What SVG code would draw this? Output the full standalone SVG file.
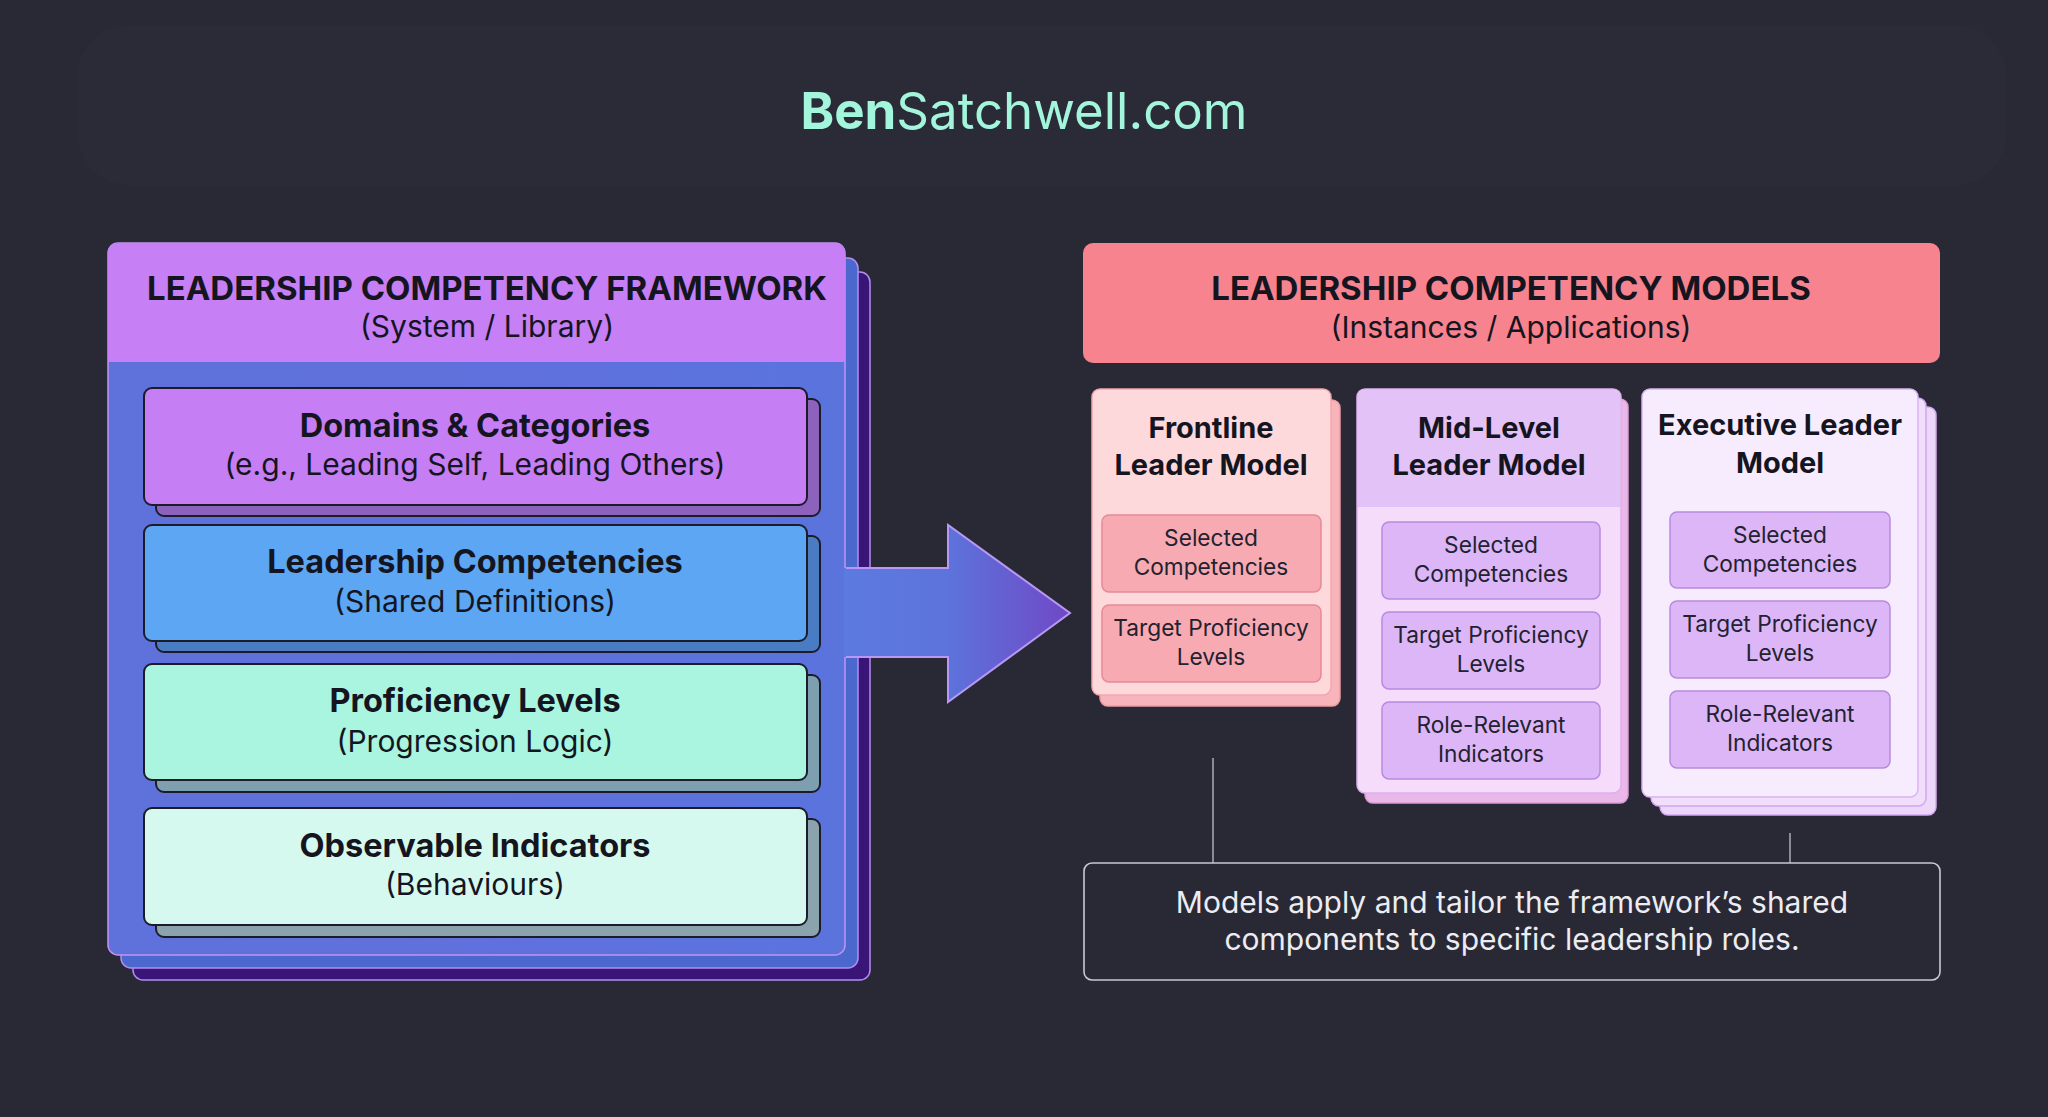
<svg xmlns="http://www.w3.org/2000/svg" width="2048" height="1117" viewBox="0 0 2048 1117">
<defs>
<style>
text{font-family:Inter,"Liberation Sans",sans-serif;text-anchor:middle;fill:#15151f}
.h1{font-size:33px;font-weight:700}
.sub{font-size:30px;font-weight:400}
.bt{font-size:32.5px;font-weight:700}
.ct{font-size:29px;font-weight:700}
.it{font-size:22.7px;font-weight:400;fill:#222230}
.note{font-size:30px;font-weight:400;fill:#ececf2}
.lyr{stroke:#b68cf2;stroke-width:1.5}
.inner{stroke:#1c1c28;stroke-width:2}
.conn{stroke:#a4a4ae;stroke-width:1.6;fill:none}
</style>
<linearGradient id="arrowG" x1="0" y1="0" x2="1" y2="0">
<stop offset="0" stop-color="#5c7ae0"/>
<stop offset="0.45" stop-color="#5c74dc"/>
<stop offset="1" stop-color="#7048c6"/>
</linearGradient>
<linearGradient id="bodyG" x1="0" y1="0" x2="1" y2="0">
<stop offset="0" stop-color="#5e72da"/>
<stop offset="0.5" stop-color="#6070dc"/>
<stop offset="1" stop-color="#5a74dc"/>
</linearGradient>
</defs>
<rect width="2048" height="1117" fill="#282935"/>
<rect x="78" y="25" width="1928" height="160" rx="50" fill="#2c2d3a" opacity="0.5"/>
<g id="title">
<text x="1024" y="129" style="font-size:51px;fill:#a3f6dc"><tspan font-weight="700" fill="#a3f6dc">Ben</tspan><tspan font-weight="400" fill="#a3f6dc">Satchwell.com</tspan></text>
</g>

<g id="framework">
<rect x="133" y="272" width="737" height="708" rx="10" fill="#3a1578" class="lyr"/>
<rect x="121" y="258" width="737" height="710" rx="10" fill="#4b68cf" class="lyr"/>
<rect x="108" y="243" width="737" height="712" rx="10" fill="url(#bodyG)" stroke="#c292f5" stroke-width="1.5"/>
<path d="M108,362 V253 Q108,243 118,243 H835 Q845,243 845,253 V362 Z" fill="#c67ff5"/>
<text class="h1" x="487" y="300">LEADERSHIP COMPETENCY FRAMEWORK</text>
<text class="sub" x="487" y="337">(System / Library)</text>
</g>

<g id="domains">
<rect x="156" y="399" width="664" height="117" rx="8" fill="#8d62bd" class="inner"/>
<rect x="144" y="388" width="663" height="117" rx="8" fill="#c57ef3" class="inner"/>
<text class="bt" x="475" y="437">Domains &amp; Categories</text>
<text class="sub" x="475" y="475">(e.g., Leading Self, Leading Others)</text>
</g>
<g id="competencies">
<rect x="156" y="536" width="664" height="116" rx="8" fill="#4a7cc4" class="inner"/>
<rect x="144" y="525" width="663" height="116" rx="8" fill="#5ca6f3" class="inner"/>
<text class="bt" x="475" y="573">Leadership Competencies</text>
<text class="sub" x="475" y="612">(Shared Definitions)</text>
</g>
<g id="proficiency">
<rect x="156" y="675" width="664" height="117" rx="8" fill="#7d9faf" class="inner"/>
<rect x="144" y="664" width="663" height="116" rx="8" fill="#a9f5df" class="inner"/>
<text class="bt" x="475" y="712">Proficiency Levels</text>
<text class="sub" x="475" y="752">(Progression Logic)</text>
</g>
<g id="indicators">
<rect x="156" y="819" width="664" height="118" rx="8" fill="#8aa3ad" class="inner"/>
<rect x="144" y="808" width="663" height="117" rx="8" fill="#d6f9ef" class="inner"/>
<text class="bt" x="475" y="857">Observable Indicators</text>
<text class="sub" x="475" y="895">(Behaviours)</text>
</g>

<g id="connectors">
<polygon points="844,568 948,568 948,525 1070,613 948,702 948,657 844,657" fill="url(#arrowG)"/>
<polyline points="846,568 948,568 948,525 1070,613 948,702 948,657 846,657" fill="none" stroke="#b898f4" stroke-width="2"/>
<line class="conn" x1="1213" y1="758" x2="1213" y2="863"/>
<line class="conn" x1="1790" y1="833" x2="1790" y2="863"/>
</g>

<g id="models-header">
<rect x="1083" y="243" width="857" height="120" rx="10" fill="#f7838f"/>
<text class="h1" x="1511" y="300">LEADERSHIP COMPETENCY MODELS</text>
<text class="sub" x="1511" y="338">(Instances / Applications)</text>
</g>

<g id="frontline">
<rect x="1100" y="400" width="240" height="306" rx="8" fill="#f7b4ba" stroke="#f09aa4" stroke-width="1.5"/>
<rect x="1092" y="389" width="239" height="306" rx="8" fill="#fdd9db" stroke="#f4a6ae" stroke-width="1.5"/>
<text class="ct" x="1211" y="438">Frontline</text>
<text class="ct" x="1211" y="475">Leader Model</text>
<rect x="1102" y="515" width="219" height="77" rx="7" fill="#f8aab2" stroke="#e48b96" stroke-width="1.5"/>
<text class="it" x="1211" y="546">Selected</text>
<text class="it" x="1211" y="575">Competencies</text>
<rect x="1102" y="605" width="219" height="77" rx="7" fill="#f8aab2" stroke="#e48b96" stroke-width="1.5"/>
<text class="it" x="1211" y="636">Target Proficiency</text>
<text class="it" x="1211" y="665">Levels</text>
</g>

<g id="midlevel">
<rect x="1365" y="399" width="263" height="404" rx="8" fill="#eab8e8" stroke="#dc9ad8" stroke-width="1.5"/>
<rect x="1357" y="389" width="264" height="404" rx="8" fill="#f6dcfb" stroke="#dcb0f0" stroke-width="1.5"/>
<path d="M1358,507 V397 Q1358,390 1365,390 H1613 Q1620,390 1620,397 V507 Z" fill="#e2c2f7"/>
<text class="ct" x="1489" y="438">Mid-Level</text>
<text class="ct" x="1489" y="475">Leader Model</text>
<rect x="1382" y="522" width="218" height="77" rx="7" fill="#dcb6f6" stroke="#b78ae0" stroke-width="1.5"/>
<text class="it" x="1491" y="553">Selected</text>
<text class="it" x="1491" y="582">Competencies</text>
<rect x="1382" y="612" width="218" height="77" rx="7" fill="#dcb6f6" stroke="#b78ae0" stroke-width="1.5"/>
<text class="it" x="1491" y="643">Target Proficiency</text>
<text class="it" x="1491" y="672">Levels</text>
<rect x="1382" y="702" width="218" height="77" rx="7" fill="#dcb6f6" stroke="#b78ae0" stroke-width="1.5"/>
<text class="it" x="1491" y="733">Role-Relevant</text>
<text class="it" x="1491" y="762">Indicators</text>
</g>

<g id="executive">
<rect x="1660" y="407" width="276" height="408" rx="8" fill="#ecd6fa" stroke="#d2a6f0" stroke-width="1.5"/>
<rect x="1651" y="398" width="275" height="408" rx="8" fill="#f0defb" stroke="#d2a6f0" stroke-width="1.5"/>
<rect x="1642" y="389" width="276" height="408" rx="8" fill="#f6ecfd" stroke="#d8b4f2" stroke-width="1.5"/>
<text class="ct" x="1780" y="435">Executive Leader</text>
<text class="ct" x="1780" y="473">Model</text>
<rect x="1670" y="512" width="220" height="76" rx="7" fill="#dcb6f6" stroke="#b78ae0" stroke-width="1.5"/>
<text class="it" x="1780" y="543">Selected</text>
<text class="it" x="1780" y="572">Competencies</text>
<rect x="1670" y="601" width="220" height="77" rx="7" fill="#dcb6f6" stroke="#b78ae0" stroke-width="1.5"/>
<text class="it" x="1780" y="632">Target Proficiency</text>
<text class="it" x="1780" y="661">Levels</text>
<rect x="1670" y="691" width="220" height="77" rx="7" fill="#dcb6f6" stroke="#b78ae0" stroke-width="1.5"/>
<text class="it" x="1780" y="722">Role-Relevant</text>
<text class="it" x="1780" y="751">Indicators</text>
</g>

<g id="note">
<rect x="1084" y="863" width="856" height="117" rx="8" fill="#282935" stroke="#c8c8d0" stroke-width="1.6"/>
<text class="note" x="1512" y="913">Models apply and tailor the framework’s shared</text>
<text class="note" x="1512" y="950">components to specific leadership roles.</text>
</g>
</svg>
